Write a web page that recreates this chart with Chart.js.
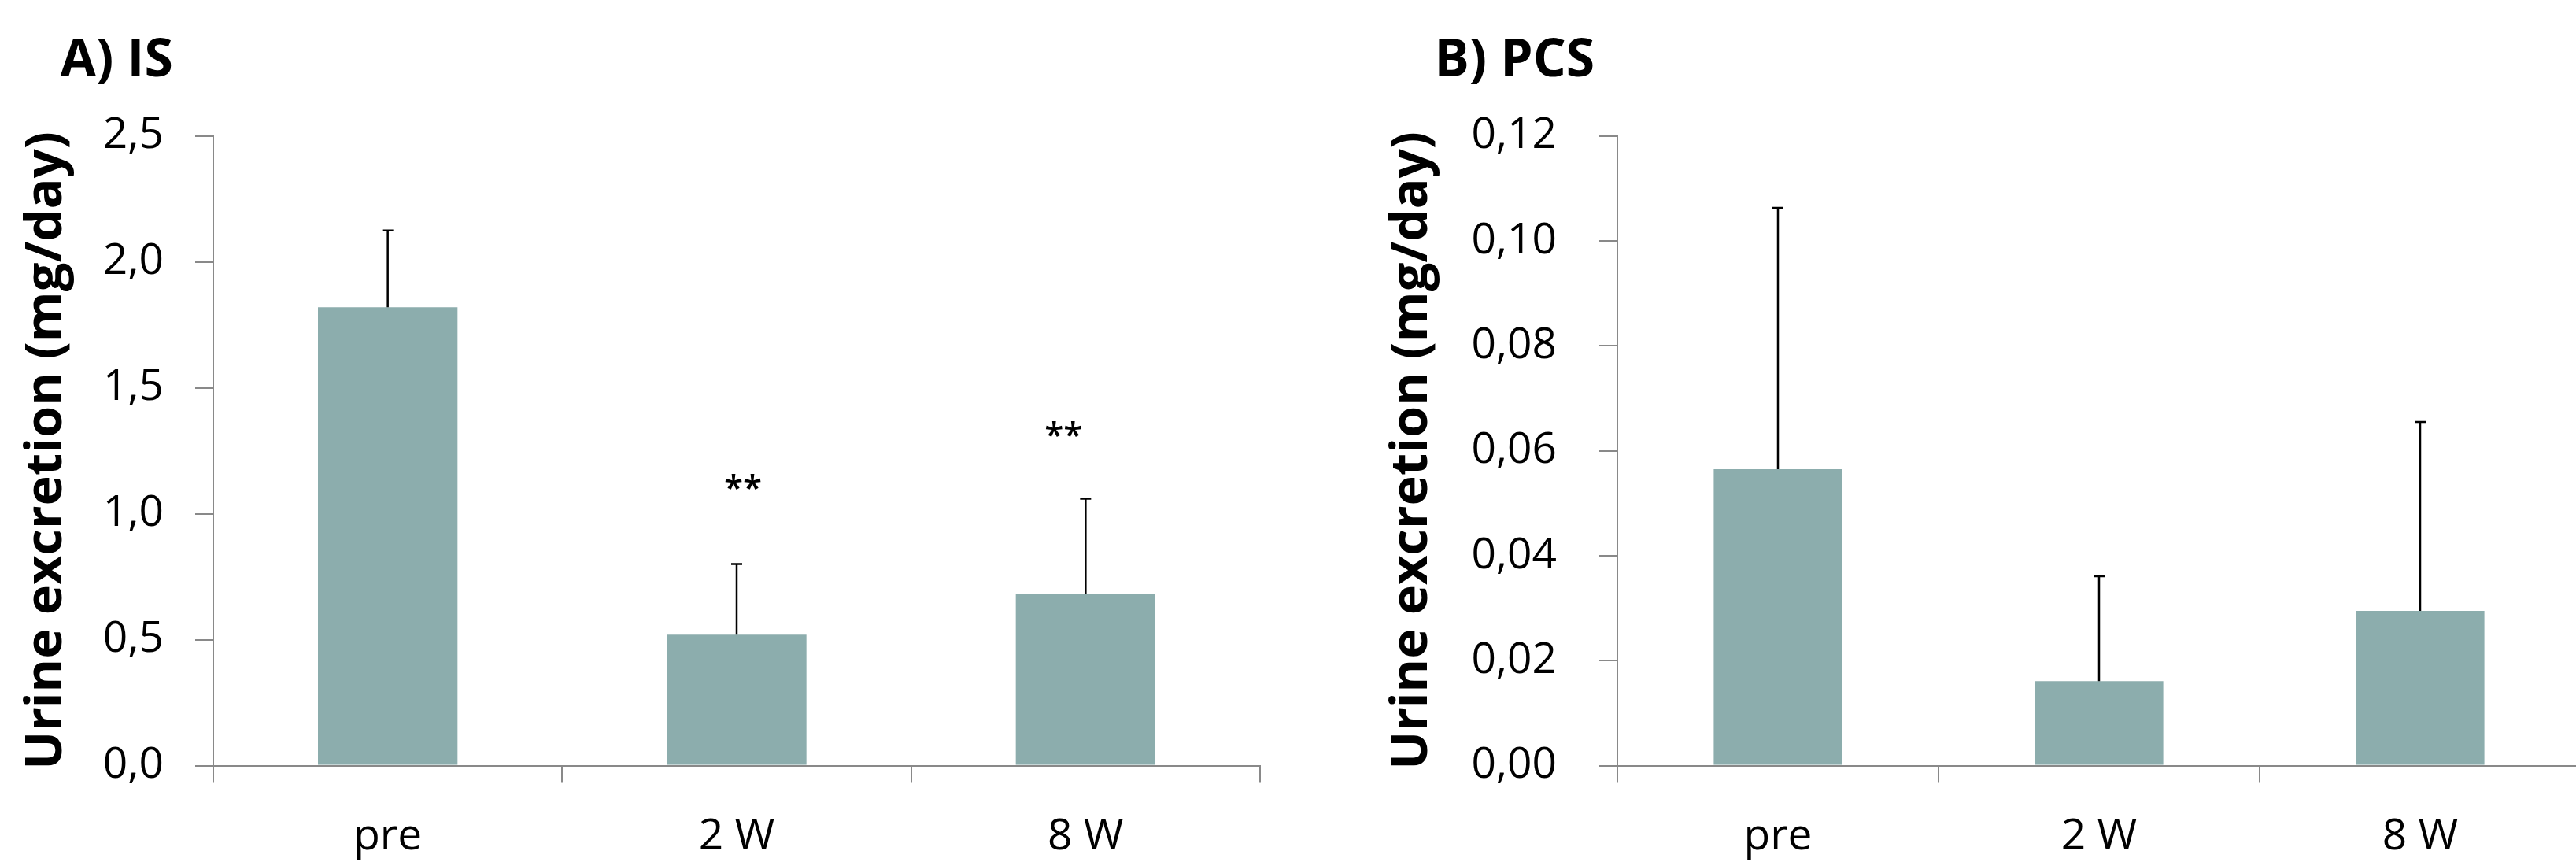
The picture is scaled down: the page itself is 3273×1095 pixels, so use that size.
<!DOCTYPE html>
<html><head><meta charset="utf-8">
<script src="https://cdn.jsdelivr.net/npm/chart.js@4/dist/chart.umd.min.js"></script>
<style>
html,body{margin:0;padding:0;background:#fff;overflow:hidden;width:3273px;height:1095px;position:relative;}
#wrapA{position:absolute;left:0;top:0;width:1640px;height:1095px;}
#wrapB{position:absolute;left:1640px;top:0;width:1660px;height:1095px;}
</style></head><body>
<div id="wrapA"><canvas id="cA" width="1640" height="1095"></canvas></div>
<div id="wrapB"><canvas id="cB" width="1660" height="1095"></canvas></div>
<script>
// ---- data ----
const categories = ['pre', '2 W', '8 W'];
const isMean = [1.82, 0.52, 0.68];
const isSD = [0.305, 0.28, 0.38];
const isStars = ['', '**', '**'];
const isStarLevel = [null, 1.13, 1.34];
const isTickLabels = ['0,0', '0,5', '1,0', '1,5', '2,0', '2,5'];
const pcsMean = [0.0565, 0.0161, 0.0295];
const pcsSD = [0.0498, 0.0200, 0.0360];
const pcsStars = ['', '', ''];
const pcsStarLevel = [null, null, null];
const pcsTickLabels = ['0,00', '0,02', '0,04', '0,06', '0,08', '0,10', '0,12'];

const BAR = '#8CADAD';
const AXIS = '#898989';
const FONT = "'Open Sans', 'Liberation Sans', sans-serif";

const extras = {
  id: 'extras',
  afterDatasetsDraw(chart, args, opts) {
    const ctx = chart.ctx;
    const y = chart.scales.y;
    const meta = chart.getDatasetMeta(0);
    ctx.save();
    // error bars
    ctx.strokeStyle = '#000';
    ctx.lineWidth = 2.5;
    meta.data.forEach((bar, i) => {
      const v = chart.data.datasets[0].data[i];
      const top = y.getPixelForValue(v + opts.sd[i]);
      const base = y.getPixelForValue(v);
      ctx.beginPath();
      ctx.moveTo(bar.x, base);
      ctx.lineTo(bar.x, top);
      ctx.moveTo(bar.x - 7, top);
      ctx.lineTo(bar.x + 7, top);
      ctx.stroke();
    });
    // significance stars
    ctx.fillStyle = '#000';
    ctx.font = '600 44px ' + FONT;
    ctx.textAlign = 'center';
    ctx.textBaseline = 'alphabetic';
    meta.data.forEach((bar, i) => {
      if (!opts.stars[i]) return;
      const py = y.getPixelForValue(opts.starLevel[i]);
      ctx.fillText(opts.stars[i], bar.x + opts.starDx[i], py + 0.55 * 44);
    });
    // panel title
    ctx.font = 'bold 66px ' + FONT;
    ctx.textAlign = 'left';
    ctx.fillText(opts.title, opts.titleX, opts.titleY);
    ctx.restore();
  }
};

function makeChart(id, means, sd, stars, starLevel, starDx, tickLabels, yMax, yStep, cfg) {
  return new Chart(document.getElementById(id), {
    type: 'bar',
    data: {
      labels: categories,
      datasets: [{ data: means, backgroundColor: BAR, borderWidth: 0, barPercentage: 0.4, categoryPercentage: 1.0 }]
    },
    options: {
      responsive: false, animation: false, devicePixelRatio: 1,
      layout: { padding: { top: 172.7, left: 0, right: cfg.padRight, bottom: 0 } },
      plugins: {
        legend: { display: false }, tooltip: { enabled: false },
        extras: { sd: sd, stars: stars, starLevel: starLevel, starDx: starDx, title: cfg.title, titleX: cfg.titleX, titleY: 96.7 }
      },
      scales: {
        x: {
          ticks: { padding: 36, color: '#000', font: { family: FONT, size: 55 } },
          grid: { offset: true, drawOnChartArea: false, drawTicks: true, tickLength: 22, color: AXIS, lineWidth: 2 },
          border: { display: true, color: AXIS, width: 2 },
          afterFit: s => { s.height = 122.5; }
        },
        y: {
          min: 0, max: yMax,
          ticks: { stepSize: yStep, padding: cfg.tickPad, color: '#000', font: { family: FONT, size: 55 },
                   callback: (v, i) => tickLabels[i] },
          grid: { drawOnChartArea: false, drawTicks: true, tickLength: 23, color: AXIS, lineWidth: 2 },
          border: { display: true, color: AXIS, width: 2 },
          title: { display: true, text: 'Urine excretion (mg/day)', color: '#000',
                   font: { family: FONT, size: 65, weight: 'bold', lineHeight: 1.2 },
                   padding: { top: cfg.titlePad, bottom: 0 } },
          afterFit: s => { s.width = cfg.yWidth; }
        }
      }
    },
    plugins: [extras]
  });
}

makeChart('cA', isMean, isSD, isStars, isStarLevel, [0, 8, -28], isTickLabels, 2.5, 0.5,
  { padRight: 39, tickPad: 40, titlePad: 20, yWidth: 271, title: 'A) IS', titleX: 76.5 });
makeChart('cB', pcsMean, pcsSD, pcsStars, pcsStarLevel, [0, 0, 0], pcsTickLabels, 0.12, 0.02,
  { padRight: 21, tickPad: 54, titlePad: 115, yWidth: 415, title: 'B) PCS', titleX: 182.5 });
</script>
</body></html>
